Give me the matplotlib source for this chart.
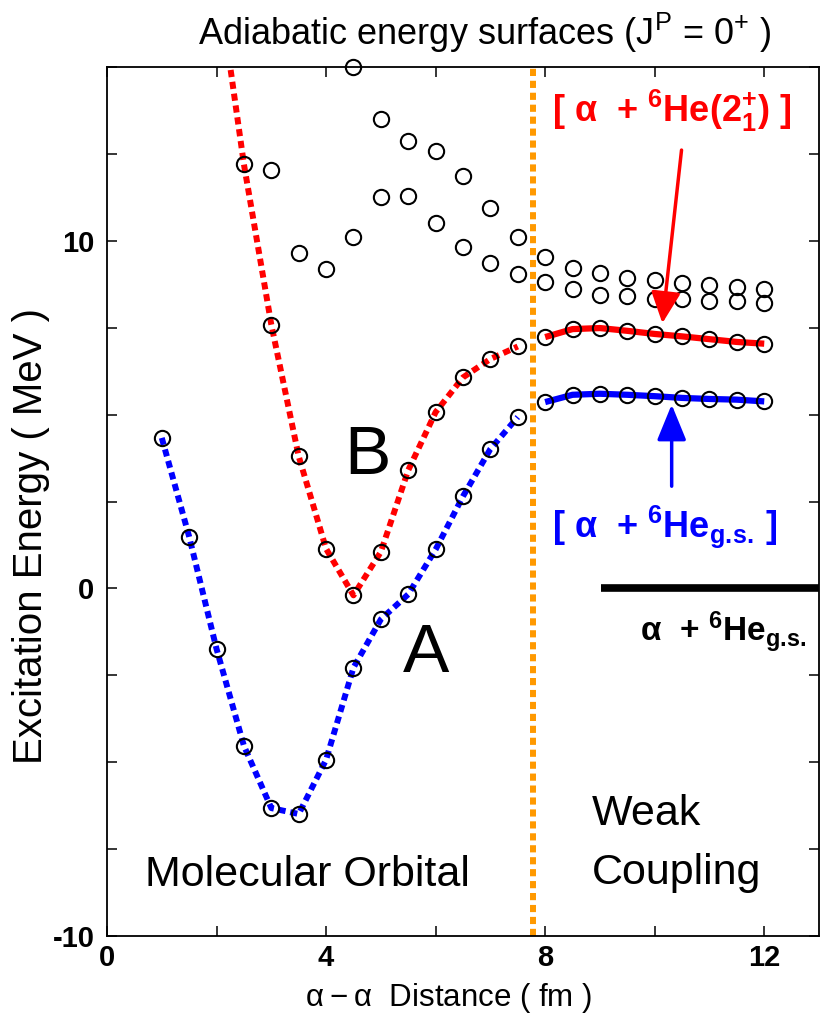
import matplotlib
matplotlib.use("Agg")
import matplotlib.pyplot as plt
from matplotlib.ticker import MultipleLocator, FuncFormatter

plt.rcParams['font.family'] = ['Liberation Sans', 'DejaVu Sans']
plt.rcParams['mathtext.default'] = 'regular'

# state A (lowest adiabatic surface, molecular-orbital region)
x_a = [1.0, 1.5, 2.0, 2.5, 3.0, 3.5, 4.0, 4.5, 5.0, 5.5, 6.0, 6.5, 7.0, 7.5]
e_a = [4.33, 1.49, -1.74, -4.53, -6.32, -6.49, -4.93, -2.28, -0.89, -0.17,
       1.12, 2.65, 4.01, 4.93]

# state B (second surface)
x_b = [2.0, 2.5, 3.0, 3.5, 4.0, 4.5, 5.0, 5.5, 6.0, 6.5, 7.0, 7.5]
e_b = [17.8, 12.2, 7.59, 3.80, 1.14, -0.20, 1.05, 3.40, 5.07, 6.07, 6.60, 6.96]

# higher surfaces (only the calculated points)
x_c = [4.5, 5.0, 5.5, 6.0, 6.5, 7.0, 7.5, 8.0, 8.5, 9.0, 9.5, 10.0, 10.5,
       11.0, 11.5, 12.0]
e_c = [15.0, 13.49, 12.87, 12.57, 11.85, 10.94, 10.12, 9.54, 9.21, 9.07,
       8.93, 8.86, 8.78, 8.72, 8.67, 8.62]
x_d = [3.0, 3.5, 4.0, 4.5, 5.0, 5.5, 6.0, 6.5, 7.0, 7.5, 8.0, 8.5, 9.0, 9.5,
       10.0, 10.5, 11.0, 11.5, 12.0]
e_d = [12.04, 9.66, 9.2, 10.11, 11.26, 11.30, 10.51, 9.83, 9.37, 9.05, 8.81,
       8.62, 8.43, 8.40, 8.33, 8.33, 8.26, 8.26, 8.21]

# weak-coupling region
x_w = [8.0, 8.5, 9.0, 9.5, 10.0, 10.5, 11.0, 11.5, 12.0]
e_w_2p = [7.23, 7.46, 7.49, 7.41, 7.32, 7.25, 7.17, 7.09, 7.04]
e_w_gs = [5.36, 5.57, 5.60, 5.57, 5.53, 5.48, 5.45, 5.43, 5.38]

r_border = 7.77
threshold_x = [9.02, 13.0]
threshold_e = [0.0, 0.0]

fig = plt.figure(figsize=(8.21, 10.17), dpi=100)
ax = fig.add_axes([107 / 821, 81 / 1017, 712 / 821, 869 / 1017])

dot = (0, (1.2, 0.8))
ax.plot(x_a, e_a, color='#0000ff', lw=4.3, ls=dot, dash_capstyle='butt', zorder=2)
ax.plot(x_b, e_b, color='#ff0000', lw=4.3, ls=dot, dash_capstyle='butt', zorder=2)
ax.plot(x_w, e_w_2p, color='#ff0000', lw=4.5, solid_capstyle='butt', zorder=2)
ax.plot(x_w, e_w_gs, color='#0000ff', lw=4.5, solid_capstyle='butt', zorder=2)
ax.axvline(r_border, color='#ff9900', lw=4.3, ls=(0, (1.2, 0.8)), dash_capstyle='butt', zorder=1)
ax.plot(threshold_x, threshold_e, color='black', lw=5.5, solid_capstyle='butt', clip_on=False)

circ = dict(ls='none', marker='o', ms=11, mfc='none', mec='black', mew=1.5, zorder=3)
ax.plot(x_a, e_a, **circ)
ax.plot(x_b, e_b, **circ)
ax.plot(x_c, e_c, clip_on=False, **circ)
ax.plot(x_d, e_d, **circ)
ax.plot(x_w, e_w_2p, **circ)
ax.plot(x_w, e_w_gs, **circ)

ax.set_xlim(0, 13)
ax.set_ylim(-10, 15)
ax.xaxis.set_major_locator(MultipleLocator(2))
ax.yaxis.set_major_locator(MultipleLocator(2.5))
ax.xaxis.set_major_formatter(FuncFormatter(lambda v, p: f'{v:.0f}' if round(v) % 4 == 0 else ''))
ax.yaxis.set_major_formatter(FuncFormatter(lambda v, p: f'{v:.0f}' if abs(v) % 10 < 1e-6 else ''))
ax.tick_params(direction='in', top=True, right=True, length=7, width=1.1, labelsize=21)
ax.tick_params(axis='x', pad=6)
ax.tick_params(axis='y', pad=9)
for lab in ax.get_xticklabels() + ax.get_yticklabels():
    lab.set_fontweight('bold')
for s in ax.spines.values():
    s.set_linewidth(1.3)

ax.set_xlabel(r'$\alpha - \alpha$  Distance ( fm )', fontsize=22.5)
ax.set_ylabel('Excitation Energy ( MeV )', fontsize=29)
ax.xaxis.set_label_coords(0.48, -0.052)
ax.yaxis.set_label_coords(-0.08, 0.46)

fig.text(0.59, 0.956, r'Adiabatic energy surfaces (J$^{P}$ = 0$^{+}$ )',
         ha='center', va='baseline', fontsize=26)

ax.text(4.34, 3.28, 'B', fontsize=50)
ax.text(5.41, -2.41, 'A', fontsize=50)
ax.text(0.69, -8.56, 'Molecular Orbital', fontsize=31)
ax.text(8.86, -6.81, 'Weak', fontsize=31)
ax.text(8.86, -8.51, 'Coupling', fontsize=31)

ax.text(8.13, 13.42, r'[ α  + $^{6}$He(2$_{1}^{+}$) ]', color='#ff0000',
        fontsize=26, fontweight='bold')
ax.text(8.13, 1.49, r'[ α  + $^{6}$He$_{g.\!s.\!}$ ]', color='#0000ff',
        fontsize=26, fontweight='bold')
ax.text(9.73, -1.52, r'α  + $^{6}$He$_{g.\!s.}$', color='black',
        fontsize=24, fontweight='bold')

ax.annotate('', xy=(10.14, 7.63), xytext=(10.49, 12.61),
            arrowprops=dict(arrowstyle='-|>,head_length=19,head_width=9', mutation_scale=1,
                            color='#ff0000', lw=2.5, shrinkA=0, shrinkB=0))
ax.annotate('', xy=(10.31, 5.29), xytext=(10.31, 2.94),
            arrowprops=dict(arrowstyle='-|>,head_length=22,head_width=9', mutation_scale=1,
                            color='#0000ff', lw=2.5, shrinkA=0, shrinkB=0))

fig.savefig('out.png', dpi=100)
